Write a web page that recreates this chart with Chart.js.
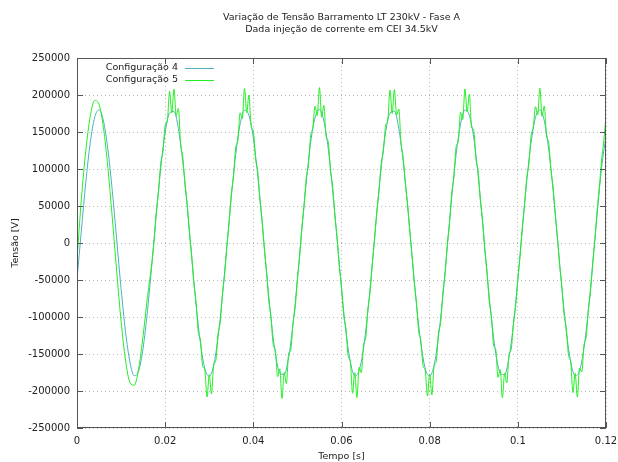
<!DOCTYPE html>
<html>
<head>
<meta charset="utf-8">
<script src="https://cdn.jsdelivr.net/npm/chart.js"></script>
<style>
  body { margin: 0; background: #ffffff; }
  canvas { display: block; }
</style>
</head>
<body>
<canvas id="grafico" width="618" height="462"></canvas>
<script>
const titulo = ["Variação de Tensão Barramento LT 230kV - Fase A", "Dada injeção de corrente em CEI 34.5kV"];
const rotuloX = "Tempo [s]";
const rotuloY = "Tensão [V]";
const nomes = ["Configuração 4", "Configuração 5"];

const xTicks = [0, 0.02, 0.04, 0.06, 0.08, 0.1, 0.12];
const xTickLabels = ["0", "0.02", "0.04", "0.06", "0.08", "0.1", "0.12"];
const yTicks = [-250000, -200000, -150000, -100000, -50000, 0, 50000, 100000, 150000, 200000, 250000];
const yTickLabels = ["-250000", "-200000", "-150000", "-100000", "-50000", "0", "50000", "100000", "150000", "200000", "250000"];

// Configuração 4 (passo 1 ms)
const tempo4 = [
  0, 0.001, 0.002, 0.003, 0.004, 0.005, 0.006, 0.007, 0.008, 0.009,
  0.01, 0.011, 0.012, 0.013, 0.014, 0.015, 0.016, 0.017, 0.018, 0.019,
  0.02, 0.021, 0.022, 0.023, 0.024, 0.025, 0.026, 0.027, 0.028, 0.029,
  0.03, 0.031, 0.032, 0.033, 0.034, 0.035, 0.036, 0.037, 0.038, 0.039,
  0.04, 0.041, 0.042, 0.043, 0.044, 0.045, 0.046, 0.047, 0.048, 0.049,
  0.05, 0.051, 0.052, 0.053, 0.054, 0.055, 0.056, 0.057, 0.058, 0.059,
  0.06, 0.061, 0.062, 0.063, 0.064, 0.065, 0.066, 0.067, 0.068, 0.069,
  0.07, 0.071, 0.072, 0.073, 0.074, 0.075, 0.076, 0.077, 0.078, 0.079,
  0.08, 0.081, 0.082, 0.083, 0.084, 0.085, 0.086, 0.087, 0.088, 0.089,
  0.09, 0.091, 0.092, 0.093, 0.094, 0.095, 0.096, 0.097, 0.098, 0.099,
  0.1, 0.101, 0.102, 0.103, 0.104, 0.105, 0.106, 0.107, 0.108, 0.109,
  0.11, 0.111, 0.112, 0.113, 0.114, 0.115, 0.116, 0.117, 0.118, 0.119,
  0.12
];
const tensao4 = [
  -49600, 17600, 82300, 135400, 169600, 179900, 165000, 126800, 70900, 5000,
  -61600, -119500, -160700, -179300, -172700, -141800, -91100, -27500, 39900, 101700,
  149200, 175800, 177700, 154600, 109800, 49600, -17600, -82300, -135400, -169600,
  -179900, -165000, -126800, -70900, -5000, 61600, 119500, 160700, 179300, 172700,
  141800, 91100, 27500, -39900, -101700, -149200, -175800, -177700, -154600, -109800,
  -49300, 17900, 82000, 135700, 169300, 180200, 164700, 127100, 70600, 5300,
  -61300, -119800, -160400, -179600, -172400, -142100, -90800, -27800, 40200, 101400,
  149500, 175500, 178000, 154300, 110100, 49300, -17300, -82600, -135100, -169900,
  -179600, -165300, -126500, -71200, -4700, 61300, 119800, 160400, 179600, 172400,
  142100, 90800, 27800, -40200, -101400, -149500, -175500, -178000, -154300, -110100,
  -49600, 17600, 82300, 135400, 169600, 179900, 165000, 126800, 70900, 5000,
  -61600, -119500, -160700, -179300, -172700, -141800, -91100, -27500, 39900, 101700,
  145000
];

// Configuração 5 (passo 1 ms no primeiro ciclo, 0.5 ms depois)
const tempo5 = [
  0, 0.001, 0.002, 0.003, 0.004, 0.005, 0.006, 0.007, 0.008, 0.009,
  0.01, 0.011, 0.012, 0.013, 0.014, 0.015, 0.016,
  0.017, 0.0175, 0.018, 0.0185, 0.019, 0.0195, 0.02, 0.0205, 0.021, 0.0215,
  0.022, 0.0225, 0.023, 0.0235, 0.024, 0.0245, 0.025, 0.0255, 0.026, 0.0265,
  0.027, 0.0275, 0.028, 0.0285, 0.029, 0.0295, 0.03, 0.0305, 0.031, 0.0315,
  0.032, 0.0325, 0.033, 0.0335, 0.034, 0.0345, 0.035, 0.0355, 0.036, 0.0365,
  0.037, 0.0375, 0.038, 0.0385, 0.039, 0.0395, 0.04, 0.0405, 0.041, 0.0415,
  0.042, 0.0425, 0.043, 0.0435, 0.044, 0.0445, 0.045, 0.0455, 0.046, 0.0465,
  0.047, 0.0475, 0.048, 0.0485, 0.049, 0.0495, 0.05, 0.0505, 0.051, 0.0515,
  0.052, 0.0525, 0.053, 0.0535, 0.054, 0.0545, 0.055, 0.0555, 0.056, 0.0565,
  0.057, 0.0575, 0.058, 0.0585, 0.059, 0.0595, 0.06, 0.0605, 0.061, 0.0615,
  0.062, 0.0625, 0.063, 0.0635, 0.064, 0.0645, 0.065, 0.0655, 0.066, 0.0665,
  0.067, 0.0675, 0.068, 0.0685, 0.069, 0.0695, 0.07, 0.0705, 0.071, 0.0715,
  0.072, 0.0725, 0.073, 0.0735, 0.074, 0.0745, 0.075, 0.0755, 0.076, 0.0765,
  0.077, 0.0775, 0.078, 0.0785, 0.079, 0.0795, 0.08, 0.0805, 0.081, 0.0815,
  0.082, 0.0825, 0.083, 0.0835, 0.084, 0.0845, 0.085, 0.0855, 0.086, 0.0865,
  0.087, 0.0875, 0.088, 0.0885, 0.089, 0.0895, 0.09, 0.0905, 0.091, 0.0915,
  0.092, 0.0925, 0.093, 0.0935, 0.094, 0.0945, 0.095, 0.0955, 0.096, 0.0965,
  0.097, 0.0975, 0.098, 0.0985, 0.099, 0.0995, 0.1, 0.1005, 0.101, 0.1015,
  0.102, 0.1025, 0.103, 0.1035, 0.104, 0.1045, 0.105, 0.1055, 0.106, 0.1065,
  0.107, 0.1075, 0.108, 0.1085, 0.109, 0.1095, 0.11, 0.1105, 0.111, 0.1115,
  0.112, 0.1125, 0.113, 0.1135, 0.114, 0.1145, 0.115, 0.1155, 0.116, 0.1165,
  0.117, 0.1175, 0.118, 0.1185, 0.119, 0.1195, 0.12
];
const tensao5 = [
  -22000, 60000, 125200, 171000, 192700, 187400, 155700, 102200, 34400, -38300,
  -105700, -158100, -188400, -192200, -169000, -125000, -72000,
  -26000, 4400, 42700, 69500, 107700, 123300, 159200, 165000, 205000, 176000,
  208000, 172000, 182000, 134000, 116000, 78800, 52600, 14600, -16000, -53800,
  -80000, -120000, -131100, -166000, -172000, -208000, -178000, -204000, -166000, -158500,
  -122300, -106700, -68300, -41500, -3100, 27400, 66800, 90000, 128900, 138500,
  175900, 168000, 209000, 176000, 200000, 158000, 151600, 114000, 96900, 57600,
  30100, -8400, -38700, -77500, -99700, -137300, -145200, -180700, -170000, -210000,
  -175000, -190000, -150000, -144300, -108000, -86800, -48600, -18600, 20000, 49800,
  88000, 106000, 145100, 156000, 185000, 172000, 210000, 170000, 186000, 144500,
  136300, 98700, 76300, 37500, 7100, -31400, -58800, -98000, -114900, -152500,
  -160000, -203000, -175000, -209000, -168000, -175300, -137600, -128000, -88900, -65600,
  -27000, 5200, 41800, 70300, 106900, 124500, 158400, 166000, 206500, 175000,
  207200, 173000, 181000, 135000, 115200, 79600, 51800, 15400, -16800, -53000,
  -80800, -119200, -132000, -165000, -173000, -206800, -177000, -205200, -167000, -159400,
  -121400, -107600, -67500, -42300, -2300, 26600, 67600, 89200, 129800, 137600,
  176800, 167000, 208200, 177000, 201200, 157000, 152400, 113200, 97700, 56800,
  30900, -9200, -37900, -78300, -98900, -138200, -144400, -181500, -171000, -209200,
  -176000, -189200, -151000, -143500, -108800, -86000, -49400, -17800, 19200, 50600,
  87200, 106800, 144300, 157000, 184200, 173000, 209200, 171000, 185200, 145300,
  135500, 99500, 75500, 38300, 6300, -30600, -59600, -97200, -115700, -151700,
  -161000, -202200, -176000, -208200, -169000, -174500, -138400, -127200, -89700, -64800,
  -26000, 6000, 45000, 76000, 112000, 138000, 172000
];

const cores = ["#4eb0bb", "#22ee22"];
const fonte = '"DejaVu Sans", sans-serif';

const moldura = {
  id: "moldura",
  afterDraw(chart) {
    const ctx = chart.ctx;
    const a = chart.chartArea;
    const x = chart.scales.x;
    const y = chart.scales.y;
    ctx.save();
    ctx.strokeStyle = "#555555";
    ctx.lineWidth = 1;
    ctx.strokeRect(Math.round(a.left) + 0.5, Math.round(a.top) + 0.5,
      Math.round(a.right - a.left) - 1, Math.round(a.bottom - a.top) - 1);
    ctx.beginPath();
    xTicks.forEach(v => {
      const px = Math.round(x.getPixelForValue(v)) + 0.5;
      ctx.moveTo(px, a.bottom); ctx.lineTo(px, a.bottom - 6);
      ctx.moveTo(px, a.top); ctx.lineTo(px, a.top + 6);
    });
    yTicks.forEach(v => {
      const py = Math.round(y.getPixelForValue(v)) + 0.5;
      ctx.moveTo(a.left, py); ctx.lineTo(a.left + 6, py);
      ctx.moveTo(a.right, py); ctx.lineTo(a.right - 6, py);
    });
    ctx.stroke();

    // titulo
    ctx.fillStyle = "#222222";
    ctx.font = "9.5px " + fonte;
    ctx.textAlign = "center";
    ctx.textBaseline = "middle";
    const cx = (a.left + a.right) / 2;
    ctx.fillText(titulo[0], cx, 18);
    ctx.fillText(titulo[1], cx, 30);

    // legenda
    ctx.textAlign = "right";
    nomes.forEach((nome, i) => {
      const ly = 68 + i * 12;
      ctx.fillStyle = "#222222";
      ctx.fillText(nome, 178, ly);
      ctx.strokeStyle = cores[i];
      ctx.beginPath();
      ctx.moveTo(185, ly + 0.5);
      ctx.lineTo(214, ly + 0.5);
      ctx.stroke();
    });
    ctx.restore();
  }
};

const pontos4 = tempo4.map((t, i) => ({ x: t, y: tensao4[i] }));
const pontos5 = tempo5.map((t, i) => ({ x: t, y: tensao5[i] }));

new Chart(document.getElementById("grafico"), {
  type: "line",
  data: {
    datasets: [
      {
        label: nomes[0],
        data: pontos4,
        borderColor: cores[0],
        borderWidth: 1,
        pointRadius: 0,
        cubicInterpolationMode: "monotone",
        order: 1
      },
      {
        label: nomes[1],
        data: pontos5,
        borderColor: cores[1],
        borderWidth: 1,
        pointRadius: 0,
        cubicInterpolationMode: "monotone",
        order: 0
      }
    ]
  },
  options: {
    responsive: false,
    animation: false,
    devicePixelRatio: 1,
    layout: { padding: { left: 0, right: 12, top: 58, bottom: 0 } },
    plugins: {
      legend: { display: false },
      tooltip: { enabled: false },
      title: { display: false }
    },
    scales: {
      x: {
        type: "linear",
        min: 0,
        max: 0.12,
        afterFit(scale) {
          scale.height = 34;
          scale.paddingLeft = 0;
          scale.paddingRight = 0;
        },
        afterBuildTicks(scale) { scale.ticks = xTicks.map(v => ({ value: v })); },
        ticks: {
          color: "#222222",
          font: { family: fonte, size: 10 },
          padding: 7,
          maxRotation: 0,
          callback: (v, i) => xTickLabels[i]
        },
        grid: { color: "#b8b8b8", drawTicks: false },
        border: { display: false, dash: [1, 3] },
        title: {
          display: true,
          text: rotuloX,
          color: "#222222",
          font: { family: fonte, size: 9.5 },
          padding: { top: 0, bottom: 0 }
        }
      },
      y: {
        min: -250000,
        max: 250000,
        afterFit(scale) {
          scale.width = 77;
          scale.paddingTop = 0;
          scale.paddingBottom = 0;
        },
        afterBuildTicks(scale) { scale.ticks = yTicks.map(v => ({ value: v })); },
        ticks: {
          color: "#222222",
          font: { family: fonte, size: 10 },
          padding: 7,
          callback: (v, i) => yTickLabels[i]
        },
        grid: { color: "#b8b8b8", drawTicks: false },
        border: { display: false, dash: [1, 3] },
        title: {
          display: true,
          text: rotuloY,
          color: "#222222",
          font: { family: fonte, size: 9.5 },
          padding: { top: 10, bottom: 0 }
        }
      }
    }
  },
  plugins: [moldura]
});
</script>
</body>
</html>
